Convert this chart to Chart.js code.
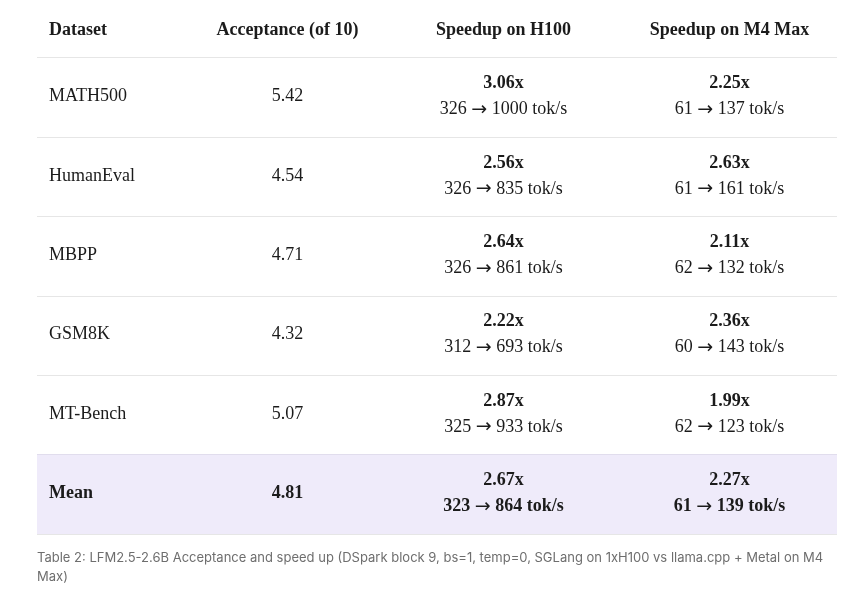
<!DOCTYPE html>
<html>
<head>
<meta charset="utf-8">
<script src="https://cdn.jsdelivr.net/npm/chart.js@4"></script>
<style>
  html, body { margin: 0; padding: 0; background: #ffffff; }
  #wrap { width: 865px; height: 598px; }
</style>
</head>
<body>
<div id="wrap"><canvas id="tbl"></canvas></div>
<script>
// table data
const headers = ['Dataset', 'Acceptance (of 10)', 'Speedup on H100', 'Speedup on M4 Max'];
const datasets = ['MATH500', 'HumanEval', 'MBPP', 'GSM8K', 'MT-Bench', 'Mean'];
const acceptance = [5.42, 4.54, 4.71, 4.32, 5.07, 4.81];
const speedupH100 = [3.06, 2.56, 2.64, 2.22, 2.87, 2.67];
const h100From = [326, 326, 326, 312, 325, 323];
const h100To = [1000, 835, 861, 693, 933, 864];
const speedupM4 = [2.25, 2.63, 2.11, 2.36, 1.99, 2.27];
const m4From = [61, 61, 62, 60, 62, 61];
const m4To = [137, 161, 132, 143, 123, 139];
const caption = ['Table 2: LFM2.5-2.6B Acceptance and speed up (DSpark block 9, bs=1, temp=0, SGLang on 1xH100 vs llama.cpp + Metal on M4', 'Max)'];

// column widths (layout only)
const colWidths = [153, 195, 237, 215];
const totalW = colWidths.reduce((a, b) => a + b, 0);
const meanIdx = datasets.indexOf('Mean');

const serif = '"Liberation Serif", "DejaVu Serif", serif';
const ink = '#1b1b1b';

function colStart(i) {
    let s = 0;
    for (let k = 0; k < i; k++) s += colWidths[k];
    return s;
}

// draws a line made of pieces in different fonts, centred on cx
function drawMixed(ctx, parts, cx, cy) {
    let w = 0;
    parts.forEach(p => { ctx.font = p[1]; w += ctx.measureText(p[0]).width; });
    let px = cx - w / 2;
    ctx.textAlign = 'left';
    parts.forEach(p => {
        ctx.font = p[1];
        ctx.fillText(p[0], px, cy + (p[2] || 0));
        px += ctx.measureText(p[0]).width;
    });
}

const cellText = {
    id: 'cellText',
    afterDraw(chart) {
        const ctx = chart.ctx;
        const x = chart.scales.x;
        const y = chart.scales.y;
        const area = chart.chartArea;
        ctx.save();
        ctx.fillStyle = ink;
        ctx.textBaseline = 'middle';

        // header row
        ctx.font = 'bold 18px ' + serif;
        headers.forEach((h, c) => {
            if (c === 0) {
                ctx.textAlign = 'left';
                ctx.fillText(h, x.getPixelForValue(0) + 12, area.top - 28);
            } else {
                ctx.textAlign = 'center';
                ctx.fillText(h, x.getPixelForValue(colStart(c) + colWidths[c] / 2), area.top - 28);
            }
        });

        // body rows
        datasets.forEach((name, r) => {
            const cy = y.getPixelForValue(r);
            const bold = r === meanIdx;
            const reg = (bold ? 'bold ' : '') + '18px ' + serif;
            const arrowFont = '19px "DejaVu Sans", sans-serif';
            ctx.font = reg;
            ctx.textAlign = 'left';
            ctx.fillText(name, x.getPixelForValue(0) + 12, cy - 1);
            ctx.textAlign = 'center';
            ctx.fillText(acceptance[r].toFixed(2), x.getPixelForValue(colStart(1) + colWidths[1] / 2), cy - 1);

            const pairs = [
                [speedupH100[r], h100From[r], h100To[r]],
                [speedupM4[r], m4From[r], m4To[r]]
            ];
            pairs.forEach((p, k) => {
                const c = k + 2;
                const cx = x.getPixelForValue(colStart(c) + colWidths[c] / 2);
                ctx.font = 'bold 18px ' + serif;
                ctx.textAlign = 'center';
                ctx.fillText(p[0].toFixed(2) + 'x', cx, cy - 14);
                drawMixed(ctx, [
                    [p[1] + ' ', reg],
                    ['\u2192', arrowFont, 0.5],
                    [' ' + p[2] + ' tok/s', reg]
                ], cx, cy + 12);
            });
        });

        // caption
        ctx.font = '13px Inter, "Noto Sans", sans-serif';
        ctx.fillStyle = '#6e6e6e';
        ctx.textAlign = 'left';
        caption.forEach((line, i) => {
            ctx.fillText(line, area.left, area.bottom + 24 + i * 19.5);
        });
        ctx.restore();
    }
};

new Chart(document.getElementById('tbl'), {
    type: 'bar',
    data: {
        labels: datasets,
        datasets: [{
            // highlight band behind the Mean row
            data: datasets.map((d, i) => i === meanIdx ? [0, totalW] : null),
            backgroundColor: '#efebfa',
            borderWidth: 0,
            barPercentage: 1,
            categoryPercentage: 1,
            inflateAmount: 0
        }]
    },
    options: {
        indexAxis: 'y',
        responsive: true,
        maintainAspectRatio: false,
        animation: false,
        layout: { padding: { left: 37, right: 28, top: 58, bottom: 64 } },
        plugins: {
            legend: { display: false },
            tooltip: { enabled: false }
        },
        scales: {
            x: {
                type: 'linear',
                min: 0,
                max: totalW,
                display: false
            },
            y: {
                type: 'category',
                offset: true,
                z: 1,
                ticks: { display: false },
                border: { display: false },
                grid: {
                    offset: true,
                    drawTicks: false,
                    tickLength: 0,
                    color: (c) => c.index === meanIdx ? '#dcd8e9' : (c.index > meanIdx ? 'rgba(0,0,0,0)' : '#e6e6e6')
                }
            }
        }
    },
    plugins: [cellText]
});
</script>
</body>
</html>
